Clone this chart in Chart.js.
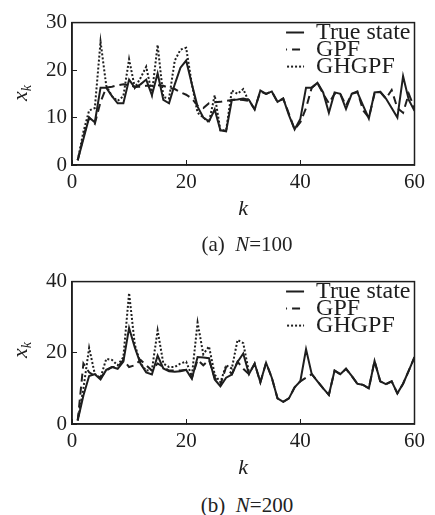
<!DOCTYPE html>
<html>
<head>
<meta charset="utf-8">
<script src="https://cdn.jsdelivr.net/npm/chart.js@4.4.0/dist/chart.umd.min.js"></script>
<style>
  body { margin:0; background:#fff; width:435px; height:515px; position:relative; overflow:hidden;
         font-family:"Liberation Serif", "DejaVu Serif", serif; color:#222; }
  canvas { position:absolute; left:0; }
  .ylab { position:absolute; left:0; width:40px; height:26px; line-height:26px; text-align:center;
          font-size:22px; font-style:italic; transform:rotate(-90deg); }
  .ylab sub { font-size:14px; vertical-align:-4px; }
  .cap { position:absolute; left:0; width:494px; text-align:center; font-size:21px; line-height:24px; }
</style>
</head>
<body>
<canvas id="chartA" width="435" height="225" style="top:0"></canvas>
<canvas id="chartB" width="435" height="225" style="top:259px"></canvas>
<div class="ylab" style="top:80px">x<sub>k</sub></div>
<div class="ylab" style="top:337px">x<sub>k</sub></div>
<div class="cap" style="top:232px">(a)&nbsp;&nbsp;<i>N</i>=100</div>
<div class="cap" style="top:493px">(b)&nbsp;&nbsp;<i>N</i>=200</div>
<script>
// time steps k and axis ticks
const steps = Array.from({ length: 60 }, (_, i) => i + 1);
const kTicks = [0, 20, 40, 60];
const seriesNames = ['True state', 'GPF', 'GHGPF'];

// (a) N = 100
const yTicksA = [0, 10, 20, 30];
const trueA = [1, 5.5, 10, 9, 16.3, 16.3, 14.5, 13, 13, 18, 16.3, 17, 18, 14.7, 19.3, 13.7, 13, 17, 20.5, 22,
  17, 12.3, 10, 9.2, 11.7, 7.3, 7.1, 13.7, 13.8, 14, 13.7, 11.7, 15.7, 15, 15.5, 13.3, 14, 10.5, 7.5, 9.7,
  16.3, 16.3, 17.3, 15.3, 11, 15.3, 15, 11.8, 15, 15.3, 12.5, 9.8, 15.3, 15.4, 14, 12, 10, 18.7, 13.7, 11.4];
const gpfA = [1, 6, 10, 8.7, 13.3, 16.3, 16.5, 16.8, 17, 16.8, 16.5, 16.5, 16.7, 16.7, 16.8, 16.7, 16.2, 16, 15.3, 14.8,
  14, 12.5, 12, 13, 13.2, 13.3, 13.5, 13.7, 13.8, 13.7, 13.5, 11.8, 15.5, 15, 15.5, 13.3, 14, 10.8, 7.5, 9,
  12, 16.3, 17.3, 15, 13, 15, 15, 12.5, 15, 15.5, 11.5, 10, 15, 15.4, 14, 15.8, 12, 11, 15, 12];
const ghgpfA = [1, 7, 11.5, 12, 26, 16.7, 14.5, 13.5, 14.5, 22.3, 16.3, 18.3, 20.7, 15, 25.3, 14.3, 14, 22, 24.3, 24.7,
  17, 11, 10, 9, 14.7, 7.3, 7.3, 15.7, 15, 16, 13.3];

// (b) N = 200
const yTicksB = [0, 20, 40];
const trueB = [1, 8, 13.5, 14, 12.5, 15.2, 16, 15.5, 17.5, 27, 21.5, 17, 14.5, 13.9, 19.2, 15.6, 14.8, 14.7, 14.8, 15.2,
  12.7, 18.8, 18.7, 18.5, 12.5, 10.6, 13, 13.9, 17.4, 19.8, 14, 17, 11.7, 17.2, 13, 7.2, 6.2, 7.2, 10.3, 12,
  21, 14, 12, 10, 8.2, 15, 14, 15.5, 13.5, 11.3, 11, 10, 17.7, 12, 11.2, 12, 8.6, 11.3, 15, 18.8];
const gpfB = [1, 17, 14.5, 13.5, 13, 15, 16, 16, 18, 16, 16.5, 18, 16.5, 15, 17, 16, 15, 15, 15, 15.2,
  13, 18, 16.5, 18, 13, 11, 16, 14, 17.5, 15.5, 14, 17, 11.7, 17.2, 13, 7.2, 6.2, 7.2, 10.3, 12,
  13, 14, 12, 10, 8.2, 15, 14, 15.5, 13.5, 11.3, 11, 10, 17.7, 12, 11.2, 12, 8.6, 11.3, 15, 18.8];
const ghgpfB = [1, 10, 21.4, 14, 13, 18.3, 18, 16.5, 18.8, 36.8, 22.3, 17, 15, 15.2, 26.3, 17, 16, 16, 17, 17.5,
  13.5, 28.5, 19.6, 21.8, 13.9, 11.7, 16.5, 15.6, 23.6, 22.7, 14.5];

const ink = '#1e1e1e';
const serif = '"Liberation Serif", "DejaVu Serif", serif';

const frame = {
  id: 'frame',
  afterDraw(chart) {
    const { ctx, chartArea: a } = chart;
    ctx.save();
    ctx.strokeStyle = ink;
    ctx.lineWidth = 1.5;
    ctx.strokeRect(a.left, a.top, a.right - a.left, a.bottom - a.top);
    ctx.restore();
  }
};

// push the in-plot legend to the top right corner (legend clips to its own box)
const legendRight = {
  id: 'legendRight',
  afterLayout(chart) {
    const lg = chart.legend;
    lg.left = chart.chartArea.right - lg.width + 6;
    lg.right = chart.chartArea.right + 14;
    lg.top = chart.chartArea.top - 5;
  }
};

const pts = vals => vals.map((v, i) => ({ x: steps[i], y: v }));

function makeChart(id, t, g, h, yTicks) {
  const ds = [
    { label: seriesNames[0], data: pts(t), borderDash: [] },
    { label: seriesNames[1], data: pts(g), borderDash: [8, 5] },
    { label: seriesNames[2], data: pts(h), borderDash: [2, 2] }
  ].map(d => ({ ...d, borderColor: ink, backgroundColor: ink, borderWidth: 2, pointRadius: 0, tension: 0, fill: false }));

  return new Chart(document.getElementById(id), {
    type: 'line',
    data: { datasets: ds },
    plugins: [frame, legendRight],
    options: {
      responsive: false, animation: false,
      layout: { padding: { top: 14, right: 14, left: 0, bottom: 0 } },
      plugins: {
        legend: {
          position: 'chartArea', align: 'start',
          // empty title only reserves a little room above the tightly packed rows
          title: { display: true, text: '', padding: 0, font: { size: 10, lineHeight: 1 } },
          labels: {
            usePointStyle: true, pointStyle: 'line', pointStyleWidth: 25, boxHeight: 10,
            padding: -7, color: ink, font: { family: serif, size: 24 },
            generateLabels: chart => Chart.defaults.plugins.legend.labels.generateLabels(chart).map(item => ({
              ...item,
              lineDash: chart.data.datasets[item.datasetIndex].borderDash,
              lineWidth: 2, strokeStyle: ink
            }))
          }
        },
        tooltip: { enabled: false }
      },
      scales: {
        x: {
          type: 'linear', min: 0, max: 60,
          afterBuildTicks: s => { s.ticks = kTicks.map(v => ({ value: v })); },
          afterFit: s => { s.height = 60; },
          grid: { drawOnChartArea: false, color: ink, tickLength: -5 },
          border: { color: ink, width: 1.5 },
          ticks: { color: ink, padding: 10, font: { family: serif, size: 21 } },
          title: { display: true, text: 'k', color: ink, padding: { top: 0, bottom: 3 },
                   font: { family: serif, size: 22, style: 'italic' } }
        },
        y: {
          min: yTicks[0], max: yTicks[yTicks.length - 1],
          afterBuildTicks: s => { s.ticks = yTicks.map(v => ({ value: v })); },
          afterFit: s => { s.width = 72; },
          grid: { drawOnChartArea: false, color: ink, tickLength: -5 },
          border: { color: ink, width: 1.5 },
          ticks: { color: ink, padding: 10, font: { family: serif, size: 21 } }
        }
      }
    }
  });
}

makeChart('chartA', trueA, gpfA, ghgpfA, yTicksA);
makeChart('chartB', trueB, gpfB, ghgpfB, yTicksB);
</script>
</body>
</html>
